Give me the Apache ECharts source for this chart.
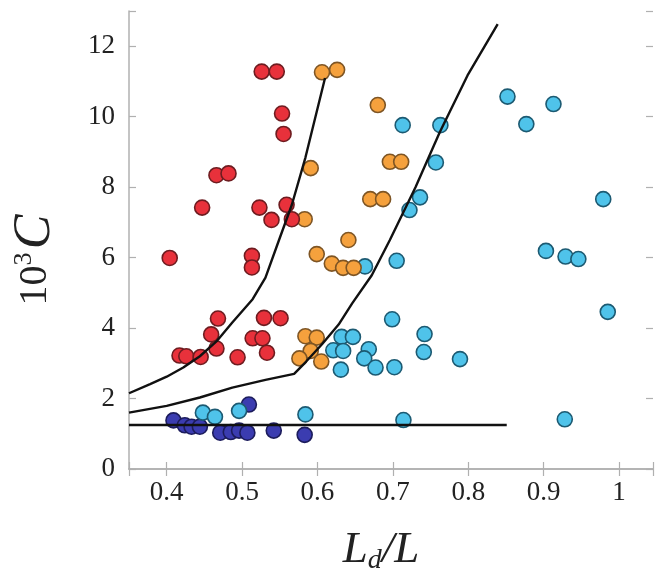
<!DOCTYPE html>
<html>
<head>
<meta charset="utf-8">
<script src="https://cdn.jsdelivr.net/npm/echarts@6/dist/echarts.min.js"></script>
<style>
html,body{margin:0;padding:0;background:#fff;}
#c{width:656px;height:585px;}
</style>
</head>
<body>
<div id="c"></div>
<script>
// ---- data (x = Ld/L, y = 10^3 C) ----
const redPts = [
  [0.526,11.28],[0.546,11.28],
  [0.553,10.09],[0.555,9.51],
  [0.466,8.34],[0.482,8.39],
  [0.447,7.42],[0.523,7.42],[0.559,7.50],
  [0.539,7.07],[0.566,7.09],
  [0.404,5.99],[0.513,6.05],[0.513,5.72],
  [0.468,4.27],[0.529,4.29],[0.551,4.28],
  [0.459,3.82],[0.514,3.71],[0.527,3.71],
  [0.466,3.42],[0.533,3.30],
  [0.417,3.22],[0.426,3.20],[0.445,3.18],[0.494,3.17]
];
const orangePts = [
  [0.606,11.26],[0.626,11.33],
  [0.680,10.33],
  [0.591,8.54],
  [0.696,8.72],[0.711,8.72],
  [0.670,7.66],[0.687,7.66],
  [0.583,7.09],
  [0.641,6.50],
  [0.599,6.10],[0.619,5.83],[0.634,5.71],[0.648,5.71],
  [0.584,3.77],[0.599,3.73],
  [0.591,3.35],[0.576,3.14],[0.605,3.05]
];
const navyPts = [
  [0.409,1.38],[0.424,1.24],[0.433,1.20],[0.444,1.20],
  [0.471,1.03],[0.485,1.05],[0.496,1.09],[0.507,1.03],
  [0.509,1.83],
  [0.542,1.09],
  [0.583,0.97]
];
const cyanPts = [
  [0.852,10.57],[0.913,10.36],[0.877,9.79],
  [0.713,9.76],[0.763,9.76],
  [0.757,8.70],
  [0.736,7.71],[0.722,7.35],
  [0.979,7.66],
  [0.705,5.91],[0.663,5.75],
  [0.903,6.19],[0.929,6.03],[0.946,5.96],
  [0.985,4.46],
  [0.699,4.25],
  [0.742,3.83],[0.741,3.32],[0.789,3.12],
  [0.632,3.75],[0.647,3.75],
  [0.621,3.37],[0.634,3.35],[0.668,3.40],
  [0.662,3.14],
  [0.631,2.82],[0.677,2.88],[0.702,2.89],
  [0.714,1.39],[0.928,1.41],
  [0.448,1.60],[0.464,1.48],[0.496,1.65],[0.584,1.55]
];
const curveLeft = [
  [0.35,2.15],[0.378,2.41],[0.40,2.62],[0.422,2.88],[0.444,3.20],
  [0.466,3.62],[0.487,4.16],[0.514,4.82],[0.531,5.43],[0.549,6.50],
  [0.566,7.50],[0.584,8.84],[0.610,11.10]
];
const curveRight = [
  [0.35,1.60],[0.40,1.79],[0.444,2.03],[0.487,2.31],[0.531,2.53],
  [0.569,2.70],[0.585,3.05],[0.606,3.54],[0.628,4.10],[0.646,4.70],
  [0.672,5.50],[0.696,6.50],[0.73,8.00],[0.762,9.55],[0.799,11.17],[0.839,12.63]
];
const flatLine = [[0.35,1.25],[0.851,1.25]];
const xTickLabels = {'0.4':'0.4','0.5':'0.5','0.6':'0.6','0.7':'0.7','0.8':'0.8','0.9':'0.9','1':'1'};
const yTickLabels = {'0':'0','2':'2','4':'4','6':'6','8':'8','10':'10','12':'12'};

const serif = '"Liberation Serif","DejaVu Serif",serif';
const axisGray = '#b0b0b0';

function xFmt(v){
  const k = (Math.round(v*1000)/1000).toString();
  return xTickLabels[k] !== undefined ? xTickLabels[k] : '';
}
function yFmt(v){
  const k = (Math.round(v*1000)/1000).toString();
  return yTickLabels[k] !== undefined ? yTickLabels[k] : '';
}

function scatter(data, fill, border){
  return {
    type:'scatter', data: data, symbol:'circle', symbolSize:15,
    itemStyle:{color:fill, borderColor:border, borderWidth:1.6, opacity:1},
    z:2, silent:true
  };
}
function line(data){
  return {
    type:'line', data:data, symbol:'none', smooth:false,
    lineStyle:{color:'#111', width:2.4}, z:5, silent:true
  };
}

const chart = echarts.init(document.getElementById('c'), null, {renderer:'canvas'});
chart.setOption({
  animation:false,
  backgroundColor:'#fff',
  grid:{left:129, right:0, top:11, bottom:116, containLabel:false},
  xAxis:[{
    type:'value', min:0.35, max:1.045, splitNumber:7, position:'bottom',
    axisLine:{show:true, lineStyle:{color:axisGray, width:1.5}},
    axisTick:{show:true, inside:true, length:7, lineStyle:{color:axisGray, width:1.2}},
    splitLine:{show:false},
    axisLabel:{formatter:xFmt, fontFamily:serif, fontSize:27, color:'#222', margin:10},
    name:'{i|L}{s|d}{i|/L}', nameLocation:'middle', nameGap:56,
    nameTextStyle:{
      padding:[0,20,0,0],
      rich:{
        i:{fontFamily:serif, fontStyle:'italic', fontSize:45, lineHeight:50, color:'#222'},
        s:{fontFamily:serif, fontStyle:'italic', fontSize:28, lineHeight:30, verticalAlign:'bottom', color:'#222'}
      }
    }
  },{
    type:'value', min:0.35, max:1.045, splitNumber:7, position:'top',
    axisLine:{show:true, lineStyle:{color:axisGray, width:1.5}},
    axisTick:{show:true, inside:true, length:7, lineStyle:{color:axisGray, width:1.2}},
    splitLine:{show:false}, axisLabel:{show:false}
  }],
  yAxis:[{
    type:'value', min:0, max:13, interval:2, position:'left',
    axisLine:{show:true, lineStyle:{color:axisGray, width:1.5}},
    axisTick:{show:true, inside:true, length:7, lineStyle:{color:axisGray, width:1.2}},
    splitLine:{show:false},
    axisLabel:{formatter:yFmt, fontFamily:serif, fontSize:27, color:'#222', margin:14},
    name:'{n|10}{p|3} {c|C}', nameLocation:'middle', nameGap:70, nameRotate:90,
    nameTextStyle:{
      padding:[0,40,0,0],
      rich:{
        n:{fontFamily:serif, fontSize:40, lineHeight:48, color:'#222'},
        p:{fontFamily:serif, fontSize:26, lineHeight:28, verticalAlign:'top', color:'#222'},
        c:{fontFamily:serif, fontStyle:'italic', fontSize:52, lineHeight:48, color:'#222'}
      }
    }
  },{
    type:'value', min:0, max:13, interval:2, position:'right',
    axisLine:{show:false},
    axisTick:{show:true, inside:true, length:7, lineStyle:{color:axisGray, width:1.2}},
    splitLine:{show:false}, axisLabel:{show:false}
  }],
  series:[
    scatter(navyPts, '#3b3cb0', '#1c1c5c'),
    scatter(cyanPts, '#4fc3ea', '#1c5a72'),
    scatter(orangePts, '#f5a13d', '#7e5524'),
    scatter(redPts, '#e8313b', '#6e1c20'),
    line(curveLeft),
    line(curveRight),
    line(flatLine)
  ]
});
</script>
</body>
</html>
